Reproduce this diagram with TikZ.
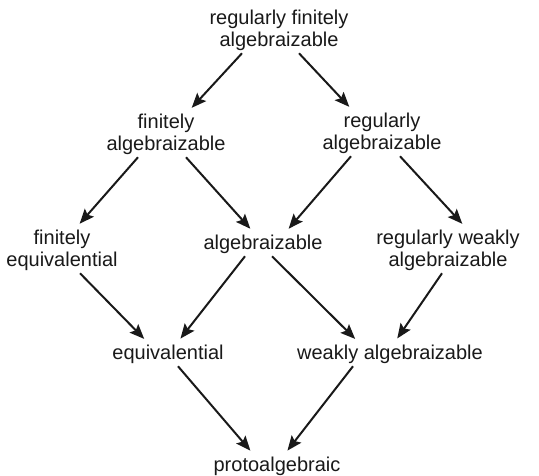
\documentclass[tikz,border=0pt]{standalone}
\usepackage{fontspec}
\setmainfont{Liberation Sans}
\usetikzlibrary{arrows.meta}
\tikzstyle{prop} = [align=center, inner sep=2pt, text=black!90, font=\fontsize{15}{16.5}\selectfont]
\tikzstyle{arrow} = [line width=1.5pt, black!90, -{Stealth[length=11pt, width=9pt, inset=2pt]}, shorten >=3pt]

\begin{document}
\begin{tikzpicture}[x=0.75pt, y=-0.75pt]
\useasboundingbox (0,0) rectangle (539,475);

\node (rfa) [prop] at (279,30) {regularly finitely\\algebraizable};

\node (fa) [prop] at (166,134) {finitely\\algebraizable};
\node (ra) [prop] at (382,133) {regularly\\algebraizable};

\node (fe) [prop] at (62,250) {finitely\\equivalential};
\node (al) [prop] at (263,244) {algebraizable};
\node (rwa) [prop] at (448,250) {regularly weakly\\algebraizable};

\node (eq) [prop] at (168,354) {equivalential};
\node (wa) [prop] at (390,354) {weakly algebraizable};

\node (pa) [prop] at (277,466) {protoalgebraic};

\draw [arrow] ([xshift=-27.75pt]rfa.south) -- ([xshift=17.25pt]fa.north);
\draw [arrow] ([xshift=15pt]rfa.south) -- ([xshift=-22.5pt]ra.north);
\draw [arrow] ([xshift=-21pt]fa.south) -- ([xshift=11.25pt]fe.north);
\draw [arrow] ([xshift=15pt]fa.south) -- ([xshift=-7.5pt]al.north);
\draw [arrow] ([xshift=-23.25pt]ra.south) -- ([xshift=17.25pt]al.north);
\draw [arrow] ([xshift=13.5pt]ra.south) -- ([xshift=12.75pt]rwa.north);
\draw [arrow] ([xshift=13.5pt]fe.south) -- ([xshift=-15.75pt]eq.north);
\draw [arrow] ([xshift=-13.5pt]al.south) -- ([xshift=7.5pt]eq.north);
\draw [arrow] ([xshift=6.75pt]al.south) -- ([xshift=-24pt]wa.north);
\draw [arrow] ([xshift=-4.5pt]rwa.south) -- ([xshift=3.75pt]wa.north);
\draw [arrow] ([xshift=7.5pt]eq.south) -- ([xshift=-18pt]pa.north);
\draw [arrow] ([xshift=-27.75pt]wa.south) -- ([xshift=6pt]pa.north);
\end{tikzpicture}
\end{document}
